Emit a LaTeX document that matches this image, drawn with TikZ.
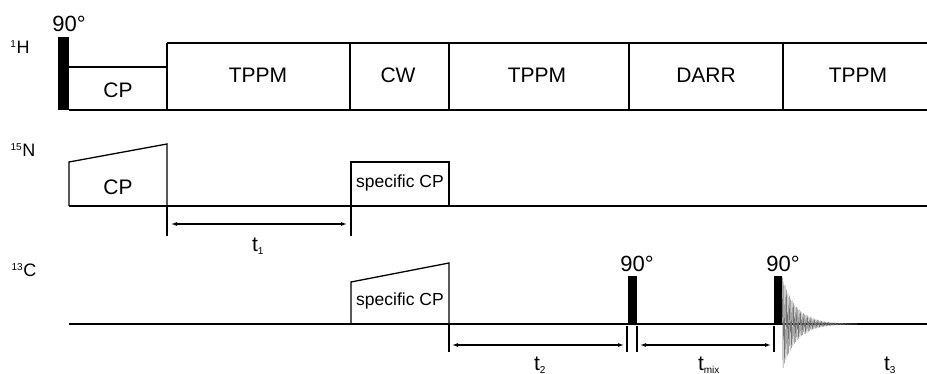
\documentclass[tikz,border=0pt]{standalone}
\usepackage{fontspec}
\setmainfont{Liberation Sans}
\usetikzlibrary{arrows.meta}
\begin{document}
\begin{tikzpicture}[x=1pt,y=-1pt,line width=1.3pt,
  boxlab/.style={font=\fontsize{21}{21}\selectfont,inner sep=0pt},
  smalllab/.style={font=\fontsize{17.5}{17.5}\selectfont,inner sep=0pt},
  chanlab/.style={font=\fontsize{18}{18}\selectfont,inner sep=0pt},
  anglab/.style={font=\fontsize{22}{22}\selectfont,inner sep=0pt},
  tlab/.style={font=\fontsize{21}{21}\selectfont,inner sep=0pt},
  pulse/.style={fill=black},
  tick/.style={line width=1.1pt},
  span/.style={line width=1.1pt,{Latex[length=6pt,width=4pt]}-{Latex[length=6pt,width=4pt]}},
  fid/.style={draw=black!55,line width=0.35pt}]
\useasboundingbox (0,0) rectangle (927,374);

% ---------- 1H ----------
\node[chanlab] (hlab) at (20,47) {\textsuperscript{\fontsize{10}{10}\selectfont 1}H};
\fill[pulse] (58,37) rectangle (69,110);
\node[anglab] (h90) at (69,24) {90°};
\draw (69,67) -- (167,67);
\draw (167,43) -- (927,43);
\draw (69,110) -- (927,110);
\foreach \xx in {167,350,449,629,783} \draw (\xx,43) -- (\xx,110);
\node[boxlab] (hcp) at (118,90) {CP};
\node[boxlab] (tppm1) at (258,75) {TPPM};
\node[boxlab] (cw) at (398,75) {CW};
\node[boxlab] (tppm2) at (537,75) {TPPM};
\node[boxlab] (darr) at (706,75) {DARR};
\node[boxlab] (tppm3) at (858,75) {TPPM};

% ---------- 15N ----------
\node[chanlab] (nlab) at (23,150) {\textsuperscript{\fontsize{10}{10}\selectfont 15}N};
\draw (69,206) -- (927,206);
\draw (69,206) -- (69,162) -- (167,144) -- (167,206);
\node[boxlab] (ncp) at (118,187) {CP};
\draw (351,206) -- (351,162) -- (449,162) -- (449,206);
\node[smalllab] (nscp) at (400,183) {specific CP};

% t1
\draw[tick] (167,206) -- (167,236);
\draw[tick] (351,206) -- (351,236);
\coordinate (t1a) at (168,224);
\coordinate (t1b) at (350,224);
\draw[span,shorten <=3pt,shorten >=3pt] (t1a) -- (t1b);
\node[tlab] (t1) at (258,246) {t\textsubscript{\fontsize{10}{10}\selectfont 1}};

% ---------- 13C ----------
\node[chanlab] (clab) at (24,270) {\textsuperscript{\fontsize{10}{10}\selectfont 13}C};
\draw (69,324) -- (927,324);
\draw (351,324) -- (351,282) -- (449,263) -- (449,324);
\node[smalllab] (cscp) at (400,301) {specific CP};
\fill[pulse] (628,276) rectangle (637,324);
\node[anglab] (c90a) at (637,264) {90°};
\fill[pulse] (774,276) rectangle (782,324);
\node[anglab] (c90b) at (783,264) {90°};

% FID (variable = number of periods, 1.4pt each)
\draw[fid] plot[domain=0:54,samples=700] ({782+1.4*\x},{324-48*exp(-\x/10)*sin(360*frac(\x))});

% t2, tmix
\draw[tick] (449,324) -- (449,352);
\draw[tick] (627,326) -- (627,352);
\draw[tick] (637,326) -- (637,352);
\draw[tick] (774,326) -- (774,352);
\coordinate (t2a) at (450,345);
\coordinate (t2b) at (626,345);
\coordinate (tma) at (638,345);
\coordinate (tmb) at (773,345);
\draw[span,shorten <=2pt,shorten >=2pt] (t2a) -- (t2b);
\draw[span,shorten <=2pt,shorten >=2pt] (tma) -- (tmb);
\node[tlab] (t2) at (540,365) {t\textsubscript{\fontsize{10}{10}\selectfont 2}};
\node[tlab] (tmix) at (709,365) {t\textsubscript{\fontsize{10}{10}\selectfont mix}};
\node[tlab] (t3) at (890,365) {t\textsubscript{\fontsize{10}{10}\selectfont 3}};
\end{tikzpicture}
\end{document}
